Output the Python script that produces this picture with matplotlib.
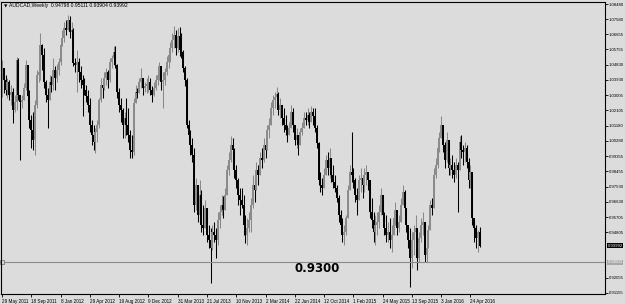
import matplotlib
matplotlib.use("Agg")
import matplotlib.pyplot as plt
import numpy as np

# Weekly AUDCAD candles (bar 0 = week of 29 May 2011)
close = [
 1.0464,1.0392,1.0332,1.0380,1.0302,1.0320,1.0212,1.0260,1.0512,1.0302,
 1.0260,1.0272,1.0344,1.0482,1.0296,1.0152,1.0092,1.0032,1.0242,1.0422,
 1.0440,1.0602,1.0542,1.0380,1.0302,1.0272,1.0380,1.0362,1.0452,1.0404,
 1.0452,1.0500,1.0602,1.0644,1.0704,1.0692,1.0752,1.0680,1.0692,1.0494,
 1.0482,1.0500,1.0440,1.0392,1.0362,1.0332,1.0296,1.0242,1.0122,1.0062,
 1.0020,1.0080,1.0122,1.0272,1.0362,1.0344,1.0404,1.0440,1.0392,1.0500,
 1.0524,1.0560,1.0482,1.0320,1.0242,1.0212,1.0122,1.0164,1.0122,1.0062,
 0.9972,0.9960,1.0254,1.0320,1.0315,1.0380,1.0404,1.0344,1.0356,1.0368,
 1.0380,1.0332,1.0302,1.0344,1.0392,1.0422,1.0476,1.0380,1.0392,1.0440,
 1.0500,1.0542,1.0584,1.0632,1.0662,1.0584,1.0656,1.0572,1.0560,1.0464,
 1.0392,1.0122,1.0062,1.0002,0.9942,0.9642,0.9762,0.9582,0.9702,0.9522,
 0.9504,0.9624,0.9462,0.9432,0.9384,0.9480,0.9462,0.9432,0.9552,0.9600,
 0.9642,0.9612,0.9702,0.9852,0.9912,1.0002,0.9972,0.9852,0.9792,0.9702,
 0.9672,0.9642,0.9522,0.9462,0.9504,0.9552,0.9642,0.9762,0.9732,0.9852,
 0.9822,0.9924,0.9912,1.0002,0.9972,1.0092,1.0122,1.0224,1.0272,1.0290,
 1.0308,1.0212,1.0242,1.0164,1.0122,1.0092,1.0062,1.0104,1.0200,1.0122,
 1.0032,1.0062,1.0002,1.0080,1.0104,1.0164,1.0152,1.0182,1.0140,1.0200,
 1.0176,1.0104,1.0014,0.9792,0.9762,0.9744,0.9822,0.9912,0.9864,0.9924,
 0.9822,0.9780,0.9744,0.9684,0.9582,0.9522,0.9462,0.9480,0.9564,0.9732,
 0.9840,0.9822,0.9792,0.9702,0.9672,0.9792,0.9804,0.9762,0.9822,0.9840,
 0.9792,0.9600,0.9552,0.9480,0.9522,0.9540,0.9600,0.9702,0.9582,0.9504,
 0.9462,0.9480,0.9432,0.9462,0.9564,0.9612,0.9504,0.9540,0.9642,0.9720,
 0.9624,0.9522,0.9432,0.9324,0.9432,0.9480,0.9504,0.9324,0.9444,0.9522,
 0.9540,0.9342,0.9384,0.9492,0.9642,0.9624,0.9822,0.9882,0.9984,1.0044,
 1.0122,1.0002,0.9912,1.0032,0.9864,0.9882,0.9852,0.9822,0.9882,0.9852,
 1.0020,0.9972,0.9960,0.9984,0.9900,0.9792,0.9840,0.9564,0.9504,0.9444,
 0.94798,0.93992]

high = [
 1.0512,1.0452,1.0422,1.0404,1.0392,1.0362,1.0344,1.0302,1.0530,1.0524,
 1.0284,1.0302,1.0374,1.0512,1.0440,1.0332,1.0182,1.0200,1.0272,1.0452,
 1.0482,1.0674,1.0608,1.0584,1.0392,1.0344,1.0422,1.0416,1.0524,1.0476,
 1.0488,1.0524,1.0620,1.0692,1.0740,1.0752,1.0782,1.0776,1.0740,1.0704,
 1.0524,1.0572,1.0524,1.0476,1.0422,1.0404,1.0362,1.0332,1.0284,1.0152,
 1.0122,1.0104,1.0152,1.0284,1.0404,1.0392,1.0440,1.0464,1.0452,1.0524,
 1.0542,1.0596,1.0596,1.0488,1.0344,1.0284,1.0224,1.0200,1.0284,1.0224,
 1.0092,1.0062,1.0284,1.0362,1.0344,1.0404,1.0464,1.0404,1.0380,1.0404,
 1.0422,1.0404,1.0356,1.0380,1.0422,1.0440,1.0500,1.0476,1.0440,1.0464,
 1.0536,1.0572,1.0620,1.0674,1.0716,1.0692,1.0704,1.0710,1.0674,1.0572,
 1.0476,1.0404,1.0152,1.0092,1.0044,0.9984,0.9804,0.9744,0.9792,0.9732,
 0.9642,0.9672,0.9582,0.9522,0.9504,0.9522,0.9540,0.9504,0.9600,0.9642,
 0.9702,0.9696,0.9744,0.9882,0.9960,1.0056,1.0044,0.9984,0.9882,0.9804,
 0.9744,0.9744,0.9702,0.9582,0.9564,0.9600,0.9684,0.9822,0.9804,0.9900,
 0.9882,0.9960,0.9984,1.0044,1.0044,1.0122,1.0164,1.0260,1.0302,1.0320,
 1.0350,1.0320,1.0284,1.0242,1.0224,1.0182,1.0122,1.0140,1.0242,1.0224,
 1.0122,1.0104,1.0062,1.0104,1.0140,1.0200,1.0200,1.0224,1.0200,1.0236,
 1.0224,1.0224,1.0122,1.0020,0.9840,0.9804,0.9864,0.9942,0.9960,0.9984,
 0.9912,0.9882,0.9822,0.9762,0.9702,0.9612,0.9564,0.9522,0.9582,0.9762,
 0.9882,1.0080,0.9864,0.9804,0.9744,0.9822,0.9864,0.9822,0.9864,0.9882,
 0.9840,0.9732,0.9684,0.9600,0.9582,0.9600,0.9642,0.9744,0.9702,0.9600,
 0.9582,0.9540,0.9564,0.9522,0.9600,0.9660,0.9612,0.9582,0.9684,0.9762,
 0.9732,0.9624,0.9522,0.9504,0.9480,0.9522,0.9582,0.9492,0.9480,0.9564,
 0.9600,0.9492,0.9444,0.9522,0.9672,0.9684,0.9864,0.9924,1.0020,1.0080,
 1.0176,1.0104,1.0020,1.0080,0.9984,0.9924,0.9942,0.9900,0.9924,0.9900,
 1.0056,1.0062,1.0002,1.0020,1.0002,0.9924,0.9882,0.9732,0.9564,0.9522,
 0.9492,0.95111]

low = [
 1.0290,1.0314,1.0302,1.0284,1.0272,1.0242,1.0134,1.0200,1.0212,1.0272,
 0.9912,1.0224,1.0272,1.0332,1.0260,1.0104,0.9984,0.9972,0.9942,1.0224,
 1.0380,1.0392,1.0452,1.0344,1.0260,1.0104,1.0272,1.0320,1.0332,1.0332,
 1.0380,1.0422,1.0482,1.0596,1.0620,1.0662,1.0692,1.0644,1.0644,1.0476,
 1.0440,1.0320,1.0380,1.0344,1.0176,1.0302,1.0260,1.0200,1.0080,1.0002,
 0.9972,0.9954,1.0020,1.0104,1.0260,1.0284,1.0332,1.0362,1.0344,1.0380,
 1.0464,1.0482,1.0464,1.0284,1.0200,1.0140,1.0044,1.0044,1.0062,1.0020,
 0.9924,0.9924,0.9942,1.0260,1.0284,1.0332,1.0344,1.0302,1.0320,1.0314,
 1.0320,1.0302,1.0260,1.0296,1.0332,1.0362,1.0392,1.0332,1.0224,1.0362,
 1.0422,1.0464,1.0500,1.0560,1.0584,1.0542,1.0560,1.0536,1.0524,1.0440,
 1.0356,1.0104,1.0020,0.9942,0.9900,0.9600,0.9612,0.9540,0.9612,0.9480,
 0.9462,0.9540,0.9420,0.9384,0.9174,0.9372,0.9420,0.9324,0.9402,0.9504,
 0.9582,0.9564,0.9624,0.9720,0.9822,0.9900,0.9864,0.9804,0.9744,0.9642,
 0.9582,0.9624,0.9462,0.9414,0.9402,0.9480,0.9480,0.9624,0.9660,0.9744,
 0.9762,0.9822,0.9864,0.9900,0.9924,1.0002,1.0044,1.0140,1.0182,1.0224,
 1.0260,1.0182,1.0164,1.0122,1.0080,1.0062,1.0020,1.0062,1.0104,1.0080,
 1.0002,0.9984,0.9942,1.0020,1.0062,1.0104,1.0122,1.0122,1.0104,1.0140,
 1.0122,1.0080,0.9984,0.9762,0.9720,0.9702,0.9744,0.9822,0.9822,0.9804,
 0.9780,0.9744,0.9720,0.9660,0.9540,0.9480,0.9420,0.9402,0.9462,0.9582,
 0.9732,0.9780,0.9744,0.9660,0.9582,0.9684,0.9720,0.9684,0.9720,0.9762,
 0.9732,0.9564,0.9504,0.9420,0.9402,0.9462,0.9504,0.9582,0.9540,0.9462,
 0.9420,0.9420,0.9384,0.9360,0.9462,0.9522,0.9462,0.9480,0.9564,0.9642,
 0.9582,0.9480,0.9384,0.9150,0.9264,0.9342,0.9420,0.9252,0.9300,0.9420,
 0.9462,0.9300,0.9300,0.9384,0.9504,0.9582,0.9660,0.9804,0.9864,0.9960,
 1.0044,0.9960,0.9864,0.9900,0.9822,0.9822,0.9804,0.9780,0.9804,0.9600,
 0.9900,0.9924,0.9882,0.9900,0.9864,0.9744,0.9744,0.9522,0.9420,0.9384,
 0.9360,0.93904]

first_open = 1.0332

date_labels = ["29 May 2011", "18 Sep 2011", "8 Jan 2012", "29 Apr 2012", "19 Aug 2012",
               "9 Dec 2012", "31 Mar 2013", "21 Jul 2013", "10 Nov 2013", "2 Mar 2014",
               "22 Jun 2014", "12 Oct 2014", "1 Feb 2015", "24 May 2015", "13 Sep 2015",
               "3 Jan 2016", "24 Apr 2016"]
date_label_bars = [0, 16, 32, 48, 64, 80, 96, 112, 128, 144, 160, 176, 192, 208, 224, 240, 256]

price_ticks = [1.08480, 1.07580, 1.06655, 1.05755, 1.04830, 1.03930, 1.03005, 1.02105,
               1.01180, 1.00280, 0.99355, 0.98455, 0.97530, 0.96630, 0.95705, 0.94805,
               0.92055, 0.91155]

hline_level = 0.9300
hline_text = "0.9300"
title = "AUDCAD,Weekly  0.94798 0.95111 0.93904 0.93992"

# ---------------------------------------------------------------
SMALL = ["Liberation Sans Narrow", "Liberation Sans", "DejaVu Sans"]
W, H = 625, 304
BG = "#dcdcdc"
YMIN, YMAX = 0.91095, 1.08600
fig = plt.figure(figsize=(W / 100, H / 100), dpi=100, facecolor=BG)
ax = fig.add_axes([1 / W, 1 - 294 / H, 604 / W, 292 / H], facecolor=BG)

n = len(close)
x = np.arange(n)
c = np.array(close)
o = np.concatenate([[first_open], c[:-1]])
hi = np.maximum(np.array(high), np.maximum(o, c))
lo = np.minimum(np.array(low), np.minimum(o, c))
up = c >= o
cols = np.where(up, "#8a8a8a", "#000000")

ax.vlines(x, lo, hi, colors=cols, linewidth=0.75)
ax.vlines(x, np.minimum(o, c), np.maximum(o, c), colors=cols, linewidth=1.4)

ax.set_xlim(-0.55, 329.5)
ax.set_ylim(YMIN, YMAX)

# horizontal level line
ax.axhline(hline_level, color="#8c8c8c", linewidth=0.8)
ax.plot([0], [hline_level], marker="s", markersize=2.2, markerfacecolor=BG,
        markeredgecolor="#666666", markeredgewidth=0.5, clip_on=False)
ax.text(172, hline_level - 0.0036, hline_text, fontsize=8.5, fontweight="bold",
        ha="center", va="center", color="black")

for s in ax.spines.values():
    s.set_color("black")
    s.set_linewidth(0.8)

ax.yaxis.tick_right()
ax.set_yticks(price_ticks)
ax.set_yticklabels([f"{v:.5f}" for v in price_ticks], family=SMALL)
ax.tick_params(axis="y", direction="out", length=2.0, width=0.6, pad=0.5,
               labelsize=3.1, colors="black")

ax.set_xticks(date_label_bars)
ax.set_xticklabels(date_labels, family=SMALL)
ax.tick_params(axis="x", direction="out", length=2.5, width=0.6, pad=0.8,
               labelsize=3.3, colors="black")
for lab in ax.get_xticklabels():
    lab.set_horizontalalignment("left")

# price boxes on the right axis
ax.text(1.004, (c[-1] - YMIN) / (YMAX - YMIN), f"{c[-1]:.5f}",
        transform=ax.transAxes, fontsize=3.1, family=SMALL, color="white",
        ha="left", va="center",
        bbox=dict(boxstyle="square,pad=0.15", fc="black", ec="black", lw=0))
ax.text(1.004, (hline_level - YMIN) / (YMAX - YMIN), f"{hline_level:.5f}",
        transform=ax.transAxes, fontsize=3.1, family=SMALL, color="white",
        ha="left", va="center",
        bbox=dict(boxstyle="square,pad=0.15", fc="#a8a8a8", ec="#a8a8a8", lw=0))

fig.text(4 / W, 1 - 6 / H, "\u25bc", fontsize=3.2, color="black",
         ha="left", va="center", family=["DejaVu Sans"])
fig.text(9 / W, 1 - 6 / H, title, fontsize=3.6, color="black",
         ha="left", va="center", family=SMALL)

fig.savefig("out.png", dpi=100, facecolor=BG)
